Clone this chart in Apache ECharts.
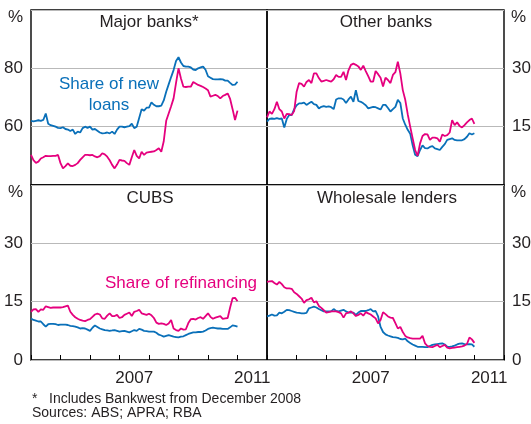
<!DOCTYPE html>
<html>
<head>
<meta charset="utf-8">
<title>Lender shares</title>
<script src="https://cdn.jsdelivr.net/npm/echarts@6/dist/echarts.min.js"></script>
<style>
    html, body { margin: 0; padding: 0; background: #fff; }
    #chart { width: 531px; height: 424px; }
</style>
</head>
<body>
<div id="chart"></div>
<script>
// monthly, Jan 2004 - Jan 2011
var startYear = 2004;
var yearLabels = ['2004', '2005', '2006', '2007', '2008', '2009', '2010', '2011'];
var shownYears = ['2007', '2011'];

// Major banks* (%), left axis 40-100
var majorNew = [
    62, 61.8, 62, 62.2, 62, 62.3, 64.5, 61, 60.5, 60.3,
    60, 59.6, 59.5, 59.8, 59.2, 59, 58.5, 59, 57.5, 58.3,
    58, 59.5, 60, 59.6, 60, 59, 59.2, 58.6, 58, 57.7,
    57.8, 58, 57.7, 58.3, 57.5, 59, 60, 60, 59.8, 60,
    60.2, 61, 59.5, 60, 63, 66, 65.5, 66.5, 66.5, 68.3,
    67.5, 67, 67, 67.2, 69, 72, 74.5, 77, 79.4, 82.5,
    83.8, 82, 80.8, 80.6, 80.6, 80.3, 79.6, 79.4, 80, 80.3,
    80.6, 79.5, 77.3, 76.8, 76.3, 76.2, 76.2, 76.3, 76.2, 75.8,
    75.8, 75, 74.3, 74.4, 75.4
];
var majorRefi = [
    50.3, 48.5, 47.6, 48, 49.1, 49.5, 50, 49.9, 49.9, 50,
    50, 50.3, 47.5, 45.7, 46.5, 47.4, 46.6, 46.5, 46.9, 47.5,
    48.6, 49.5, 50.3, 50.3, 50.2, 50.3, 49.8, 49.5, 49.9, 50.9,
    50.5, 49.7, 48.5, 46.9, 45.7, 47, 48.6, 48.4, 48.3, 47.5,
    46.9, 49.5, 52, 50, 49.1, 51.4, 50.3, 51.1, 51.3, 51.4,
    51.5, 52, 52.6, 51.4, 55, 62, 64.5, 67, 69.7, 75,
    80, 76.5, 73.7, 73.6, 73.7, 73.7, 75.3, 74.8, 74.3, 74,
    73.6, 73.1, 72.5, 70.3, 70.6, 70.9, 70.5, 69.7, 70.5, 70.9,
    71.4, 69.5, 66, 62.3, 65.5
];

// Other banks (%)
var otherNew = [
    16.3, 17, 17.1, 17, 17.2, 17, 17.1, 14.8, 17, 18,
    18, 19.5, 20.5, 21, 21, 21.2, 20.6, 21, 21.4, 20.8,
    20.6, 19.7, 20.1, 20.3, 20.1, 20.2, 20, 19.5, 22, 22.3,
    22.3, 22, 21.1, 22, 22.7, 21.4, 24.4, 21.6, 21.4, 21,
    20.5, 19.7, 19.9, 20.1, 20, 19.7, 19.4, 20.6, 20.6, 19.8,
    18.9, 19.5, 20.1, 21.9, 21.1, 17.1, 15.5, 14.2, 13.2, 10.2,
    7.8, 7.4, 9, 10.2, 9.5, 9.4, 9.8, 10, 9.4, 9.2,
    9, 9.8, 10.5, 11.6, 11.8, 12, 11.6, 11.5, 11.5, 11.5,
    11.8, 12.4, 13.3, 13, 13.3
];
var otherRefi = [
    17.4, 18.9, 18.3, 19.5, 21.4, 19.5, 18.9, 17.1, 18.3, 18.2,
    18, 19, 24, 26.2, 26, 25.3, 26.5, 27, 26.2, 28.7,
    28.7, 27.5, 26.6, 26.8, 27, 26.8, 26.6, 27.2, 28.3, 27.8,
    27.8, 29.1, 27, 29.5, 30.9, 31.2, 30.9, 30.5, 29.6, 30.7,
    29.3, 28, 26.6, 26.6, 29.3, 28.5, 27.6, 25.3, 27.6, 27,
    26.2, 28.3, 29, 31.7, 28.7, 24.4, 21.9, 18.2, 15, 12,
    9, 7.5, 10.7, 12.6, 13.1, 13, 11.6, 12.2, 12.2, 12,
    11.1, 13, 12.6, 12.8, 13.5, 16.7, 15.4, 16.1, 15.2, 14.8,
    15.4, 16.1, 16.7, 17.1, 15.7
];

// CUBS (%)
var cubsNew = [
    10.7, 10.3, 10.1, 9.9, 9.9, 9.2, 8.6, 9.2, 9.3, 9.3,
    9.2, 9.0, 9.1, 9.1, 9.1, 9.0, 8.8, 8.7, 8.6, 8.4,
    8.1, 8.2, 8.1, 7.8, 7.5, 8.3, 8.9, 8.5, 8.1, 7.9,
    7.7, 7.6, 7.5, 7.6, 7.7, 7.5, 7.3, 7.4, 7.5, 7.3,
    7.1, 7.4, 7.7, 7.5, 8.0, 7.8, 7.5, 7.4, 7.3, 7.3,
    7.3, 7.0, 6.5, 6.3, 6.0, 6.2, 6.4, 6.2, 6.0, 5.9,
    5.8, 6.0, 6.1, 6.4, 6.7, 6.9, 7.1, 7.1, 7.2, 7.2,
    7.3, 7.6, 8.0, 8.2, 8.3, 8.2, 8.1, 8.1, 8.0, 8.0,
    8.0, 8.4, 8.9, 8.8, 8.6
];
var cubsRefi = [
    12.4, 13.0, 13.1, 12.4, 13.0, 12.9, 13.8, 13.6, 13.4, 13.5,
    13.5, 13.5, 13.5, 13.6, 13.8, 14.0, 12.4, 11.6, 11.0, 10.6,
    10.3, 10.1, 10.0, 10.3, 10.5, 11.1, 11.7, 11.9, 11.7, 10.7,
    10.6, 11.4, 12.0, 11.3, 11.3, 11.6, 10.8, 11.0, 11.6, 11.9,
    12.2, 11.3, 12.4, 12.6, 12.9, 12.0, 11.8, 11.6, 11.9, 11.5,
    10.8, 9.6, 9.3, 9.4, 9.3, 9.0, 9.4, 10.3, 8.1, 7.7,
    7.5, 8.1, 7.8, 7.9, 9.5, 10.5, 10.6, 10.4, 10.8, 11.0,
    10.6, 11.3, 12.0, 11.1, 10.6, 10.9, 11.1, 11.3, 10.6, 10.7,
    10.8, 13.5, 15.9, 16.0, 15.1
];

// Wholesale lenders (%)
var wholeNew = [
    11.2, 11.4, 11.7, 11.4, 11.5, 12.2, 12.0, 12.4, 12.9, 12.8,
    12.6, 12.4, 12.2, 12.1, 12.0, 12.0, 12.1, 13.3, 13.5, 13.7,
    13.5, 13.1, 12.8, 12.5, 12.5, 12.5, 12.5, 13.1, 12.6, 12.5,
    12.7, 12.9, 12.5, 12.2, 12.2, 12.2, 11.6, 12.2, 12.6, 12.6,
    12.6, 12.8, 13.1, 12.5, 12.6, 11.2, 8.5, 7.2, 6.6, 6.3,
    6.1, 5.9, 5.8, 5.7, 5.4, 5.3, 5.5, 4.8, 4.4, 4.0,
    3.7, 3.4, 3.4, 3.4, 3.3, 3.3, 3.6, 3.9, 4.0, 4.1,
    4.2, 4.3, 4.0, 3.4, 3.4, 3.5, 3.7, 4.0, 4.2, 4.3,
    4.1, 4.0, 4.1, 4.0, 3.4
];
var wholeRefi = [
    20.1, 20.2, 20.3, 19.8, 19.4, 20.1, 19.5, 18.7, 18.4, 18.4,
    18.3, 17.4, 17.0, 16.4, 15.8, 14.7, 15.4, 15.6, 16.0, 14.8,
    15.1, 13.9, 13.4, 12.8, 12.2, 12.3, 12.5, 12.5, 12.5, 12.3,
    12.0, 10.9, 12.0, 12.2, 12.5, 12.0, 11.3, 11.6, 12.0, 11.4,
    12.3, 12.0, 11.7, 11.2, 10.7, 9.4, 10.3, 12.3, 11.8, 11.2,
    10.9, 10.8, 9.5, 8.1, 8.5, 7.2, 6.2, 5.8, 5.6, 5.5,
    5.5, 5.5, 5.5, 6.2, 4.3, 3.6, 3.4, 3.3, 3.6, 3.9,
    3.3, 3.6, 3.9, 3.2, 3.0, 3.1, 3.2, 3.3, 3.4, 3.5,
    3.7, 4.1, 5.8, 5.3, 4.4
];

var chartPage = {
    fontFamily: "'Liberation Sans', Arial, Helvetica, sans-serif",
    textColor: '#231f20',
    blue: '#0a70b9',
    pink: '#e5007e',

    init: function () {
        var chart = echarts.init(document.getElementById('chart'), null, {renderer: 'canvas'});
        chart.setOption(this.buildOption());
    },

    // month index -> decimal year
    toPairs: function (values) {
        return values.map(function (v, i) {
            return [startYear + i / 12, v];
        });
    },

    makeGrid: function (left, top, width) {
        return {
            left: left, top: top, width: width, height: 175,
            show: true, borderColor: '#000', borderWidth: 1.4,
            outerBoundsMode: 'none', containLabel: false
        };
    },

    // hidden-label value axis carrying the data (yearly ticks on bottom row)
    makeTimeAxis: function (gridIndex, showTicks) {
        return {
            type: 'value', gridIndex: gridIndex, position: 'bottom',
            min: startYear, max: startYear + 8, interval: 1,
            axisLine: {show: false},
            axisTick: {show: showTicks, inside: true, length: 5, lineStyle: {color: '#000', width: 1}},
            axisLabel: {show: false},
            splitLine: {show: false}
        };
    },

    // category axis only used to centre the year labels between ticks
    makeYearAxis: function (gridIndex) {
        var _this = this;
        return {
            type: 'category', gridIndex: gridIndex, position: 'bottom',
            data: yearLabels, boundaryGap: true,
            axisLine: {show: false}, axisTick: {show: false},
            axisLabel: {
                interval: 0, margin: 10, fontSize: 17,
                color: _this.textColor, fontFamily: _this.fontFamily,
                formatter: function (v) { return shownYears.indexOf(v) >= 0 ? v : ''; }
            },
            splitLine: {show: false}
        };
    },

    makeValueAxis: function (gridIndex, side, min, max, step, labels) {
        return {
            type: 'value', gridIndex: gridIndex, position: side,
            min: min, max: max, interval: step,
            axisLine: {show: false}, axisTick: {show: false},
            axisLabel: {
                margin: 8, fontSize: 17, color: this.textColor, fontFamily: this.fontFamily,
                formatter: function (v) { return labels.indexOf(v) >= 0 ? String(v) : ''; }
            },
            splitLine: {show: true, lineStyle: {color: '#b9b9b9', width: 1}}
        };
    },

    makeLine: function (name, values, axisIndex, color) {
        return {
            name: name, type: 'line', xAxisIndex: axisIndex, yAxisIndex: axisIndex,
            data: this.toPairs(values),
            showSymbol: false, symbol: 'none', smooth: false,
            lineStyle: {color: color, width: 1.8},
            itemStyle: {color: color},
            silent: true, z: color === this.blue ? 3 : 4
        };
    },

    makeText: function (text, x, y, align, size, color) {
        return {
            type: 'text', x: x, y: y, silent: true,
            style: {
                text: text, fill: color || this.textColor,
                font: size + 'px ' + this.fontFamily,
                textAlign: align, textVerticalAlign: 'middle'
            }
        };
    },

    buildOption: function () {
        var t = this;
        return {
            animation: false,
            backgroundColor: '#fff',
            grid: [
                t.makeGrid(31, 10, 236),
                t.makeGrid(267, 10, 237),
                t.makeGrid(31, 185, 236),
                t.makeGrid(267, 185, 237)
            ],
            xAxis: [
                t.makeTimeAxis(0, false),
                t.makeTimeAxis(1, false),
                t.makeTimeAxis(2, true),
                t.makeTimeAxis(3, true),
                t.makeYearAxis(2),
                t.makeYearAxis(3)
            ],
            yAxis: [
                t.makeValueAxis(0, 'left', 40, 100, 20, [60, 80]),
                t.makeValueAxis(1, 'right', 0, 45, 15, [15, 30]),
                t.makeValueAxis(2, 'left', 0, 45, 15, [0, 15, 30]),
                t.makeValueAxis(3, 'right', 0, 45, 15, [0, 15, 30])
            ],
            series: [
                t.makeLine('Major new', majorNew, 0, t.blue),
                t.makeLine('Major refinancing', majorRefi, 0, t.pink),
                t.makeLine('Other new', otherNew, 1, t.blue),
                t.makeLine('Other refinancing', otherRefi, 1, t.pink),
                t.makeLine('CUBS new', cubsNew, 2, t.blue),
                t.makeLine('CUBS refinancing', cubsRefi, 2, t.pink),
                t.makeLine('Wholesale new', wholeNew, 3, t.blue),
                t.makeLine('Wholesale refinancing', wholeRefi, 3, t.pink)
            ],
            graphic: {
                elements: [
                    //单位
                    t.makeText('%', 23, 17, 'right', 17),
                    t.makeText('%', 511, 17, 'left', 17),
                    t.makeText('%', 23, 192, 'right', 17),
                    t.makeText('%', 511, 192, 'left', 17),
                    //面板标题
                    t.makeText('Major banks*', 149, 22, 'center', 17),
                    t.makeText('Other banks', 386, 22, 'center', 17),
                    t.makeText('CUBS', 150, 198, 'center', 17),
                    t.makeText('Wholesale lenders', 387, 198, 'center', 17),
                    //系列标注
                    t.makeText('Share of new', 109, 84, 'center', 17, t.blue),
                    t.makeText('loans', 109, 105, 'center', 17, t.blue),
                    t.makeText('Share of refinancing', 181, 283.5, 'center', 17, t.pink),
                    //脚注
                    t.makeText('*', 32, 399, 'left', 14),
                    t.makeText('Includes Bankwest from December 2008', 49, 399, 'left', 14),
                    t.makeText('Sources: ABS; APRA; RBA', 32, 413, 'left', 14)
                ]
            }
        };
    }
};

document.addEventListener('DOMContentLoaded', function () {
    try {
        chartPage.init();
    } catch (e) {
        console.error(e);
    }
});
</script>
</body>
</html>
